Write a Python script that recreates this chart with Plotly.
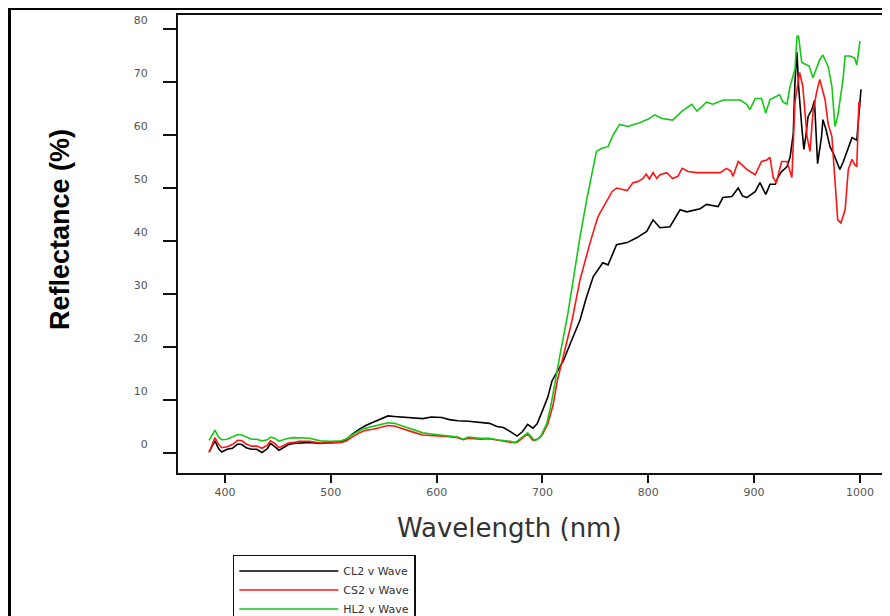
import plotly.graph_objects as go

# ---- data ----
cl2_wl = [385, 388, 390.5, 394, 397, 402, 407, 412, 416, 420, 425, 430, 435, 440, 443, 447, 451, 455, 460, 465,
          470, 480, 490, 500, 510, 515, 520, 527, 533, 540, 547, 554, 560, 570, 580, 587, 595, 605, 612, 620,
          630, 641, 650, 657, 663, 670, 676, 681, 686, 691, 695, 700, 705, 709, 714, 720, 727, 735.5, 741, 748,
          757, 762, 770, 780, 789, 798.5, 804.5, 811, 820.5, 830, 836.5, 849, 855, 866, 870.5, 879, 885, 889, 893, 901,
          905.5, 911, 915, 920, 922.5, 926, 931, 934, 937, 938.6, 940.5, 942, 945, 947, 949, 951, 954.6, 957, 960, 963.7,
          965, 968, 971.7, 975, 978, 981, 984, 989, 992.5, 997, 999, 1001]
cl2_val = [0.2, 1.2, 2.3, 0.8, 0.2, 0.7, 0.9, 1.7, 1.6, 1.0, 0.7, 0.7, 0.1, 0.8, 1.8, 1.2, 0.5, 1.0, 1.6, 1.8,
           1.9, 2.0, 1.8, 1.9, 2.1, 2.6, 3.5, 4.5, 5.2, 5.8, 6.4, 7.0, 6.9, 6.8, 6.7, 6.5, 6.8, 6.7, 6.3, 6.1,
           6.0, 5.8, 5.6, 5.0, 4.8, 4.0, 3.2, 4.0, 5.4, 4.7, 5.5, 8.0, 10.5, 13.6, 15.5, 17.5, 21.0, 25.1, 29.0, 33.3,
           35.9, 35.5, 39.3, 39.7, 40.6, 41.8, 44.0, 42.5, 42.7, 45.9, 45.5, 46.1, 46.9, 46.5, 48.2, 48.4, 50.0, 48.5, 48.2, 49.3,
           51.0, 48.8, 50.7, 50.7, 52.0, 53.1, 54.0, 55.8, 60.3, 70.0, 75.6, 69.2, 61.6, 57.3, 60.0, 63.5, 64.8, 66.5, 54.6, 59.7,
           62.9, 61.0, 57.8, 56.5, 55.0, 53.5, 54.8, 57.8, 59.5, 59.0, 64.8, 68.6]

cs2_wl = [385, 388, 390.5, 394, 397, 402, 407, 412, 416, 420, 425, 430, 435, 440, 443, 447, 451, 455, 460, 465,
          470, 480, 490, 500, 510, 515, 520, 527, 533, 540, 547, 554, 560, 570, 580, 587, 595, 605, 612, 620,
          625, 630, 641, 650, 657, 663, 670, 676, 681, 686, 691, 695, 700, 705, 710, 714, 720, 728, 735.5, 745,
          752.5, 759, 765.7, 770, 775, 780, 785.5, 790, 795, 798, 801, 804.5, 808, 811, 817.5, 823, 828, 832, 837.5, 846,
          857, 868, 874, 878, 880, 885, 893, 901, 907, 912, 915, 918, 921, 926, 931, 935.7, 938.6, 943, 946, 950,
          952.8, 955.6, 959, 962, 967, 970, 973.5, 976.4, 979, 982, 986, 989, 992.5, 995, 997, 999, 1000.5]
cs2_val = [0.1, 1.5, 2.9, 1.6, 1.0, 1.2, 1.6, 2.4, 2.3, 1.7, 1.3, 1.3, 0.9, 1.5, 2.3, 1.8, 1.0, 1.4, 1.9, 2.0,
           2.2, 2.2, 1.9, 1.9, 2.0, 2.3, 3.0, 3.8, 4.3, 4.5, 4.8, 5.2, 5.1, 4.4, 3.8, 3.4, 3.3, 3.3, 3.1, 2.9,
           2.5, 2.8, 2.6, 2.7, 2.5, 2.3, 2.0, 2.0, 2.8, 3.6, 2.4, 2.6, 3.5, 5.5, 9.0, 13.6, 18.5, 25.1, 32.7, 39.7,
           44.6, 46.9, 49.3, 50.0, 49.7, 49.5, 51.0, 51.2, 51.8, 52.6, 51.7, 52.9, 51.8, 52.5, 52.9, 51.8, 52.2, 53.7, 53.1, 52.9,
           52.9, 52.9, 53.7, 53.2, 52.2, 55.0, 53.5, 52.5, 55.0, 55.3, 55.8, 52.0, 51.0, 55.0, 55.0, 52.0, 66.2, 71.8, 69.2, 59.7,
           56.9, 64.3, 68.0, 70.5, 66.7, 62.0, 59.7, 51.6, 44.0, 43.4, 45.9, 53.5, 55.4, 54.4, 54.0, 66.2, 65.4]

hl2_wl = [385, 388, 390.5, 394, 397, 402, 407, 412, 416, 420, 425, 430, 435, 440, 443, 447, 451, 455, 460, 465,
          470, 480, 490, 500, 510, 515, 520, 527, 533, 540, 547, 554, 560, 570, 580, 587, 595, 605, 612, 620,
          625, 630, 641, 650, 657, 663, 670, 674, 680, 686, 690, 693, 698, 704, 708, 712, 717, 724, 730, 735.5,
          742, 748, 751, 756, 762, 767, 773, 781, 786, 792, 800, 806, 813, 823, 832, 841, 846, 855, 861, 871,
          887, 893, 896, 901, 907, 911, 915, 924, 927, 931, 934, 938.6, 940.5, 942, 945, 952, 955.6, 962, 965, 970,
          973.5, 976.4, 979, 984, 986, 990.6, 995, 997, 1000]
hl2_val = [2.4, 3.3, 4.3, 3.0, 2.5, 2.6, 3.0, 3.5, 3.4, 3.0, 2.6, 2.6, 2.3, 2.5, 3.0, 2.8, 2.2, 2.5, 2.8, 2.9,
           2.9, 2.8, 2.3, 2.2, 2.3, 2.7, 3.4, 4.2, 4.7, 5.0, 5.3, 5.7, 5.6, 4.9, 4.2, 3.8, 3.6, 3.4, 3.2, 3.0,
           2.6, 3.0, 2.8, 2.8, 2.5, 2.4, 2.2, 1.9, 2.8, 3.8, 2.9, 2.3, 3.0, 5.5, 9.0, 13.6, 19.0, 26.3, 34.0, 40.8,
           48.0, 53.5, 56.9, 57.5, 57.8, 60.1, 62.0, 61.6, 62.0, 62.3, 63.0, 63.8, 63.1, 62.8, 64.5, 65.8, 64.5, 66.2, 65.8, 66.6,
           66.6, 65.8, 64.8, 66.9, 66.9, 64.1, 66.7, 67.6, 66.3, 65.8, 69.2, 72.4, 78.6, 78.6, 73.7, 73.0, 70.8, 74.2, 75.1, 72.9,
           69.2, 61.6, 63.5, 70.5, 74.9, 74.9, 74.5, 73.2, 77.7]

series_names = ["CL2 v Wave", "CS2 v Wave", "HL2 v Wave"]
y_ticks = [0, 10, 20, 30, 40, 50, 60, 70, 80]
x_ticks = [400, 500, 600, 700, 800, 900, 1000]
x_title = "Wavelength (nm)"
y_title = "Reflectance (%)"

colors = ["#000000", "#ff1414", "#14c814"]

fig = go.Figure()
for name, xs, ys, c in zip(series_names, [cl2_wl, cs2_wl, hl2_wl], [cl2_val, cs2_val, hl2_val], colors):
    fig.add_trace(go.Scatter(x=xs, y=ys, mode="lines", name=name,
                             line=dict(color=c, width=1.6)))

tick_font = dict(family="DejaVu Sans", size=11, color="#555555")

fig.update_layout(
    width=882, height=608,
    margin=dict(l=170, r=0, t=7, b=143, autoexpand=False),
    paper_bgcolor="white", plot_bgcolor="white",
    showlegend=True,
    legend=dict(x=0.077, y=-0.179, xanchor="left", yanchor="top",
                bordercolor="#111111", borderwidth=1.5, bgcolor="white",
                font=dict(family="DejaVu Sans", size=11, color="#333333"),
                itemwidth=99, tracegroupgap=0),
    xaxis=dict(range=[355.6, 1028.4], tickvals=x_ticks, ticktext=[str(v) for v in x_ticks],
               ticks="outside", ticklen=8, tickwidth=2, tickcolor="#111111",
               showline=True, linecolor="#111111", linewidth=2, mirror=True,
               showgrid=False, zeroline=False, tickfont=tick_font),
    yaxis=dict(range=[-3.77, 82.64], tickvals=y_ticks, ticktext=[str(v) for v in y_ticks],
               ticks="outside", ticklen=13, tickwidth=2, tickcolor="#111111",
               ticklabelposition="outside top", ticklabelstandoff=26,
               showline=True, linecolor="#111111", linewidth=2,
               showgrid=False, zeroline=False, tickfont=tick_font),
)

# axis titles placed where the reference has them
fig.add_annotation(xref="paper", yref="paper", x=0.466, y=-0.120, xanchor="center", yanchor="middle",
                   text=x_title, showarrow=False,
                   font=dict(family="DejaVu Sans", size=26, color="#333333"))
fig.add_annotation(xref="paper", yref="paper", x=-0.1657, y=0.5306, xanchor="center", yanchor="middle",
                   text="<b>" + y_title + "</b>", textangle=-90, showarrow=False,
                   font=dict(family="Liberation Sans", size=27, color="#000000"))

# outer figure border (top-left corner visible in the reference)
fig.add_shape(type="rect", xref="paper", yref="paper",
              x0=-0.2367, y0=-0.6, x1=1.1, y1=1.0142,
              line=dict(color="black", width=3), layer="below")

fig.write_html("out.html")
